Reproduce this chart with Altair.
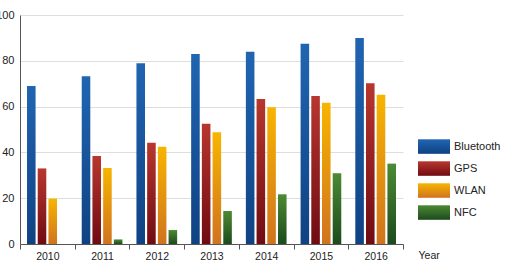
import altair as alt
import pandas as pd

# Smartphone feature share (%) by year
years = ["2010", "2011", "2012", "2013", "2014", "2015", "2016"]
series = ["Bluetooth", "GPS", "WLAN", "NFC"]
bluetooth = [69, 73.2, 78.9, 83, 84, 87.5, 90]
gps = [33, 38.4, 44.2, 52.5, 63.3, 64.6, 70.2]
wlan = [19.8, 33.2, 42.5, 48.8, 59.7, 61.7, 65.2]
nfc = [0, 2, 6.1, 14.4, 21.7, 30.9, 35.1]

# top / bottom colours of each series' vertical gradient
color_top = ["#2065b2", "#b8372e", "#f7b500", "#4c8a33"]
color_bottom = ["#0f4283", "#700b12", "#d0731f", "#1c4a1e"]

values = [bluetooth, gps, wlan, nfc]
df = pd.DataFrame(
    [
        {"year": y, "series": s, "value": v}
        for s, vals in zip(series, values)
        for y, v in zip(years, vals)
    ]
)
legend_df = pd.DataFrame({"series": series})

FONT = "Liberation Sans"


def gradient(top, bottom):
    return {
        "gradient": "linear",
        "x1": 0, "y1": 0, "x2": 0, "y2": 1,
        "stops": [
            {"offset": 0, "color": top},
            {"offset": 1, "color": bottom},
        ],
    }


x_enc = alt.X(
    "year:N",
    scale=alt.Scale(domain=years, paddingInner=0, paddingOuter=0),
    axis=alt.Axis(
        title="Year",
        titleX=398,
        titleY=11.5,
        titleAlign="left",
        titleBaseline="middle",
        titleFont=FONT,
        titleFontSize=10.5,
        titleFontWeight="normal",
        titleColor="#222",
        labelFont=FONT,
        labelFontSize=10.5,
        labelColor="#222",
        labelAngle=0,
        labelPadding=2,
        tickBand="extent",
        tickSize=5,
        tickColor="#555",
        domainColor="#555",
        grid=False,
    ),
)
xoff_enc = alt.XOffset(
    "series:N",
    scale=alt.Scale(domain=series, paddingInner=0.2, paddingOuter=0.655),
)
y_enc = alt.Y(
    "value:Q",
    scale=alt.Scale(domain=[0, 100], nice=False),
    axis=alt.Axis(
        title=None,
        values=[0, 20, 40, 60, 80, 100],
        labelFont=FONT,
        labelFontSize=11,
        labelColor="#222",
        labelPadding=6,
        ticks=False,
        domainColor="#555",
        gridColor="#dedede",
    ),
)

bar_layers = []
for s, top, bottom in zip(series, color_top, color_bottom):
    bar_layers.append(
        alt.Chart(df)
        .transform_filter(alt.datum.series == s)
        .mark_bar(fill=gradient(top, bottom))
        .encode(x=x_enc, xOffset=xoff_enc, y=y_enc)
    )
bars = alt.layer(*bar_layers)

legend_y = alt.Y(
    "series:N",
    scale=alt.Scale(domain=series, range=[124.3, 204.8], paddingInner=0.34, paddingOuter=0),
    axis=None,
)
legend_layers = []
for s, top, bottom in zip(series, color_top, color_bottom):
    legend_layers.append(
        alt.Chart(legend_df)
        .transform_filter(alt.datum.series == s)
        .mark_rect(fill=gradient(top, bottom))
        .encode(x=alt.value(398), x2=alt.value(430), y=legend_y)
    )
legend_layers.append(
    alt.Chart(legend_df)
    .mark_text(align="left", baseline="middle", font=FONT, fontSize=11, color="#222")
    .encode(x=alt.value(434), y=legend_y, text="series:N")
)
legend = alt.layer(*legend_layers)

chart = (
    alt.layer(bars, legend)
    .resolve_scale(y="independent")
    .properties(
        width=383,
        height=229,
        autosize=alt.AutoSizeParams(type="none"),
        padding={"left": 20, "top": 15, "right": 104, "bottom": 20},
        background="white",
    )
    .configure_view(stroke=None)
)

chart.save("out.html", embed_options={"renderer": "svg", "actions": False})
